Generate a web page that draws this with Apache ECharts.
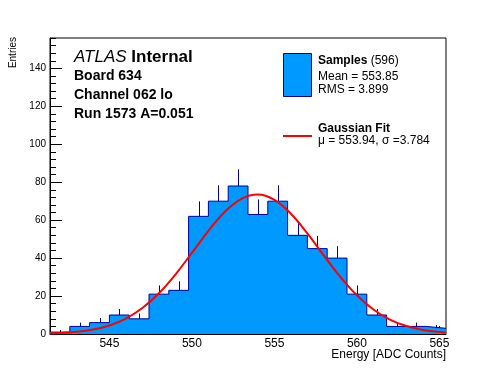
<!DOCTYPE html>
<html><head><meta charset="utf-8">
<script src="https://cdn.jsdelivr.net/npm/echarts@6/dist/echarts.min.js"></script>
<style>html,body{margin:0;padding:0;background:#fff}#c{width:496px;height:372px}</style>
</head><body><div id="c"></div>
<script>
// ---- data ----
const binEdges = [541.4,542.6,543.8,545.0,546.2,547.4,548.6,549.8,551.0,552.2,553.4,554.6,555.8,557.0,558.2,559.4,560.6,561.8,563.0,564.2,565.4];
const binCounts = [1,4,6,10,8,21,23,62,70,78,63,70,52,45,40,21,10,4,4,3];
const binErrors = [1.0,2.0,2.4,3.2,2.8,4.6,4.8,7.9,8.4,8.8,7.9,8.4,7.2,6.7,6.3,4.6,3.2,2.0,2.0,1.7];
const fitX = [541.4,542,543,544,545,546,547,548,549,550,551,552,553,554,555,556,557,558,559,560,561,562,563,564,565,565.4];
const fitY = [0.30,0.51,1.13,2.33,4.51,8.13,13.67,21.44,31.35,42.74,54.35,64.45,71.27,73.49,70.67,63.38,53.00,41.33,30.06,20.39,12.90,7.61,4.18,2.15,1.03,0.75];
const xMajorTicks = [545,550,555,560,565];
const xMinorTicks = [542,543,544,545,546,547,548,549,550,551,552,553,554,555,556,557,558,559,560,561,562,563,564,565];
const yMajorTicks = [0,20,40,60,80,100,120,140];
const yMinorTicks = [0,4,8,12,16,20,24,28,32,36,40,44,48,52,56,60,64,68,72,76,80,84,88,92,96,100,104,108,112,116,120,124,128,132,136,140,144,148,152,156];
const xRange = [541.4, 565.4];
const yRange = [0, 156];

const FONT = '"Liberation Sans", Arial, Helvetica, sans-serif';
const FILL = '#0099ff';
const EDGE = '#000099';

const histData = binCounts.map((c, i) => [binEdges[i], c]);
histData.push([binEdges[binEdges.length - 1], binCounts[binCounts.length - 1]]);
const errData = binCounts.map((c, i) => [(binEdges[i] + binEdges[i + 1]) / 2, c, binErrors[i]]);
const fitData = fitX.map((x, i) => [x, fitY[i]]);

const chart = echarts.init(document.getElementById('c'), null, {renderer: 'canvas'});
const axisCommon = {
  type: 'value', splitLine: {show: false}, scale: false
};
chart.setOption({
  animation: false,
  backgroundColor: '#fff',
  grid: {left: 50, right: 50, top: 38, bottom: 38, show: true, borderColor: '#000', borderWidth: 1, backgroundColor: 'transparent'},
  xAxis: [
    Object.assign({}, axisCommon, {
      min: xRange[0], max: xRange[1], position: 'bottom',
      axisLine: {show: true, lineStyle: {color: '#000', width: 1}},
      axisTick: {show: true, inside: true, length: 8, customValues: xMajorTicks, lineStyle: {color: '#000'}},
      axisLabel: {show: true, customValues: xMajorTicks, color: '#000', fontFamily: FONT, fontSize: 12, margin: 4}
    }),
    Object.assign({}, axisCommon, {
      min: xRange[0], max: xRange[1], position: 'bottom', offset: 0,
      axisLine: {show: false},
      axisTick: {show: true, inside: true, length: 4, customValues: xMinorTicks, lineStyle: {color: '#000'}},
      axisLabel: {show: false}
    })
  ],
  yAxis: [
    Object.assign({}, axisCommon, {
      min: yRange[0], max: yRange[1], position: 'left',
      axisLine: {show: true, lineStyle: {color: '#000', width: 1}},
      axisTick: {show: true, inside: true, length: 12, customValues: yMajorTicks, lineStyle: {color: '#000'}},
      axisLabel: {show: true, customValues: yMajorTicks, color: '#000', fontFamily: FONT, fontSize: 10, margin: 4}
    }),
    Object.assign({}, axisCommon, {
      min: yRange[0], max: yRange[1], position: 'left', offset: 0,
      axisLine: {show: false},
      axisTick: {show: true, inside: true, length: 6, customValues: yMinorTicks, lineStyle: {color: '#000'}},
      axisLabel: {show: false}
    })
  ],
  series: [
    {
      type: 'line', xAxisIndex: 0, yAxisIndex: 0, data: histData, step: 'end',
      showSymbol: false, symbol: 'none',
      lineStyle: {color: EDGE, width: 1},
      areaStyle: {color: FILL, opacity: 1},
      z: 2
    },
    {
      type: 'custom', xAxisIndex: 0, yAxisIndex: 0, data: errData,
      encode: {x: 0, y: 1},
      renderItem: function (params, api) {
        const x = api.value(0), y = api.value(1), e = api.value(2);
        const p0 = api.coord([x, y]);
        const p1 = api.coord([x, y + e]);
        const px = Math.round(p0[0]) + 0.5;
        return {type: 'line', shape: {x1: px, y1: p0[1], x2: px, y2: p1[1]}, style: {stroke: EDGE, lineWidth: 1}};
      },
      z: 3
    },
    {
      type: 'line', xAxisIndex: 0, yAxisIndex: 0, data: fitData, smooth: 0.4,
      showSymbol: false, symbol: 'none',
      lineStyle: {color: '#ff0000', width: 2},
      z: 4
    }
  ],
  graphic: [
    {type: 'text', x: 13, y: 37, rotation: Math.PI / 2, style: {text: 'Entries', align: 'right', verticalAlign: 'middle', fontFamily: FONT, fontSize: 10, fill: '#000'}},
    {type: 'text', x: 446, y: 355, style: {text: 'Energy [ADC Counts]', align: 'right', verticalAlign: 'middle', fontFamily: FONT, fontSize: 12, fill: '#000'}},
    {type: 'text', x: 74, y: 57.5, style: {text: '{i|ATLAS} {b|Internal}', verticalAlign: 'middle', fontFamily: FONT, fontSize: 17, fill: '#000',
      rich: {i: {fontStyle: 'italic', fontFamily: FONT, fontSize: 17}, b: {fontWeight: 'bold', fontFamily: FONT, fontSize: 17}}}},
    {type: 'text', x: 74, y: 76, style: {text: 'Board 634', verticalAlign: 'middle', fontFamily: FONT, fontSize: 14, fontWeight: 'bold', fill: '#000'}},
    {type: 'text', x: 74, y: 95.3, style: {text: 'Channel 062 lo', verticalAlign: 'middle', fontFamily: FONT, fontSize: 14, fontWeight: 'bold', fill: '#000'}},
    {type: 'text', x: 74, y: 114.6, style: {text: 'Run 1573 A=0.051', verticalAlign: 'middle', fontFamily: FONT, fontSize: 14, fontWeight: 'bold', fill: '#000'}},
    {type: 'rect', shape: {x: 283.5, y: 53.5, width: 28, height: 43}, style: {fill: FILL, stroke: EDGE, lineWidth: 1}},
    {type: 'text', x: 318, y: 61, style: {text: '{b|Samples} (596)', verticalAlign: 'middle', fontFamily: FONT, fontSize: 12, fill: '#000',
      rich: {b: {fontWeight: 'bold', fontFamily: FONT, fontSize: 12}}}},
    {type: 'text', x: 318, y: 76.6, style: {text: 'Mean = 553.85', verticalAlign: 'middle', fontFamily: FONT, fontSize: 12, fill: '#000'}},
    {type: 'text', x: 318, y: 90, style: {text: 'RMS = 3.899', verticalAlign: 'middle', fontFamily: FONT, fontSize: 12, fill: '#000'}},
    {type: 'line', shape: {x1: 283, y1: 136, x2: 312, y2: 136}, style: {stroke: '#ff0000', lineWidth: 2}},
    {type: 'text', x: 318, y: 128.6, style: {text: 'Gaussian Fit', verticalAlign: 'middle', fontFamily: FONT, fontSize: 12, fontWeight: 'bold', fill: '#000'}},
    {type: 'text', x: 318, y: 141, style: {text: 'μ = 553.94, σ =3.784', verticalAlign: 'middle', fontFamily: FONT, fontSize: 12, fill: '#000'}}
  ]
});
</script>
</body></html>
